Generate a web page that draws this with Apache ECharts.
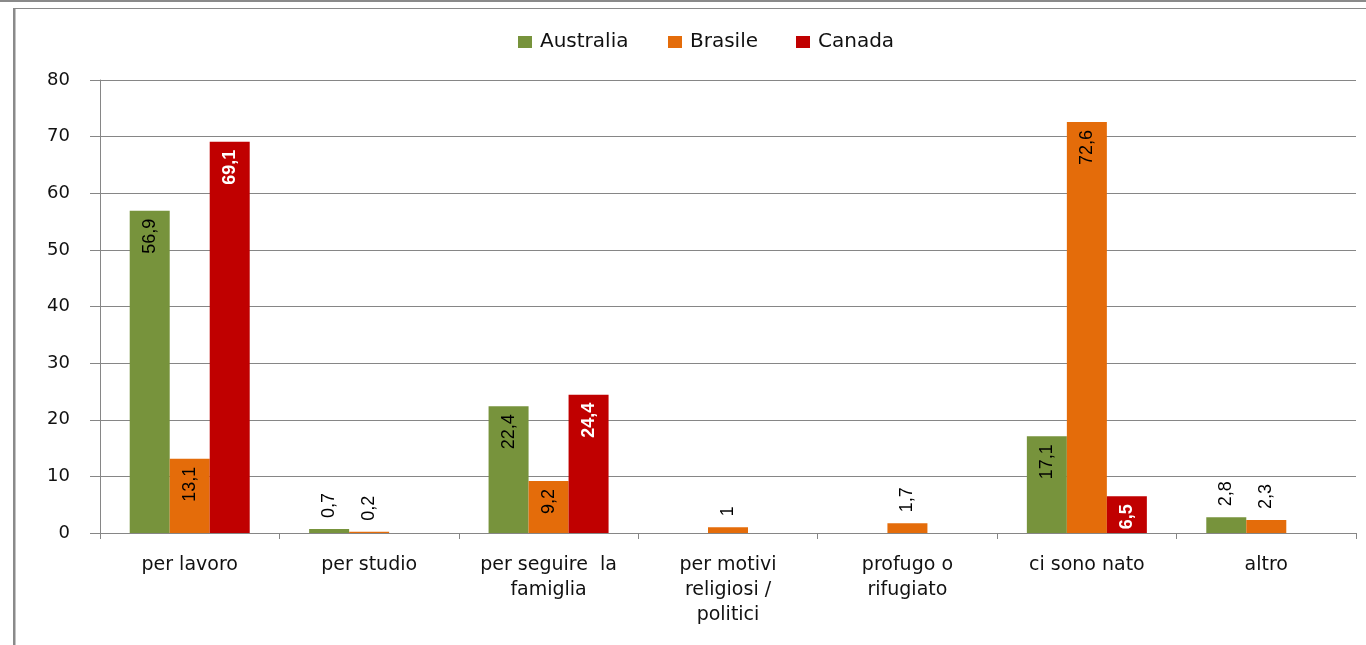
<!DOCTYPE html>
<html>
<head>
<meta charset="utf-8">
<script src="https://cdn.jsdelivr.net/npm/echarts@6/dist/echarts.min.js"></script>
<style>
html,body{margin:0;padding:0;background:#fff;}
#chart{width:1366px;height:645px;}
</style>
</head>
<body>
<div id="chart"></div>
<script>
const categories = ['per lavoro', 'per studio', 'per seguire  la\nfamiglia', 'per motivi\nreligiosi /\npolitici', 'profugo o\nrifugiato', 'ci sono nato', 'altro'];
const seriesNames = ['Australia', 'Brasile', 'Canada'];
const australia = [56.9, 0.7, 22.4, null, null, 17.1, 2.8];
const brasile = [13.1, 0.2, 9.2, 1, 1.7, 72.6, 2.3];
const canada = [69.1, null, 24.4, null, null, 6.5, null];
const yTicks = [0, 10, 20, 30, 40, 50, 60, 70, 80];

const colors = ['#77933C', '#E46C0A', '#C00000'];
const labelColors = ['#000', '#000', '#fff'];
const labelWeights = ['normal', 'normal', 'bold'];
const GRAY = '#868686';
const FONT = '"DejaVu Sans", sans-serif';

function fmt(v) { return String(v).replace('.', ','); }

function buildData(arr) {
  return arr.map(v => {
    if (v === null) return '-';
    const small = v < 5;
    return {
      value: v,
      label: small ? {
        position: 'top', distance: 11, align: 'left', verticalAlign: 'middle', color: '#000', fontWeight: 'normal'
      } : {
        position: 'insideTop', distance: 8, align: 'right', verticalAlign: 'middle'
      }
    };
  });
}

const allSeries = [australia, brasile, canada].map((arr, i) => ({
  name: seriesNames[i],
  type: 'bar',
  barWidth: 40,
  barGap: '0%',
  itemStyle: { color: colors[i] },
  label: {
    show: true,
    rotate: 90,
    formatter: p => fmt(p.value),
    fontFamily: '"Liberation Sans", Arial, sans-serif',
    fontSize: 18,
    color: labelColors[i],
    fontWeight: labelWeights[i]
  },
  data: buildData(arr)
}));

const legendLefts = [513, 663, 791];
const legends = seriesNames.map((n, i) => ({
  data: [n],
  left: legendLefts[i],
  top: 27,
  icon: 'rect',
  itemWidth: 14,
  itemHeight: 12,
  itemGap: 0,
  selectedMode: false,
  textStyle: { fontFamily: FONT, fontSize: 20, color: '#111', padding: [0, 0, 0, 3] }
}));

const chart = echarts.init(document.getElementById('chart'), null, { renderer: 'canvas' });
chart.setOption({
  animation: false,
  backgroundColor: '#fff',
  color: colors,
  legend: legends,
  grid: { left: 100, right: 10, top: 80, bottom: 112, containLabel: false },
  xAxis: {
    type: 'category',
    data: categories,
    boundaryGap: true,
    axisLine: { lineStyle: { color: GRAY, width: 1 } },
    axisTick: { show: true, length: 6, lineStyle: { color: GRAY } },
    axisLabel: {
      interval: 0, margin: 20, fontFamily: FONT, fontSize: 19, lineHeight: 25, color: '#111', align: 'center'
    }
  },
  yAxis: {
    type: 'value',
    min: yTicks[0],
    max: yTicks[yTicks.length - 1],
    interval: yTicks[1] - yTicks[0],
    axisLine: { show: true, lineStyle: { color: GRAY, width: 1 } },
    axisTick: { show: true, length: 10, lineStyle: { color: GRAY } },
    splitLine: { show: true, lineStyle: { color: GRAY, width: 1 } },
    axisLabel: { margin: 30, fontFamily: FONT, fontSize: 18, color: '#111' }
  },
  graphic: [
    { type: 'rect', shape: { x: 0, y: 0, width: 1366, height: 2 }, style: { fill: '#8a8a8a' }, silent: true },
    { type: 'rect', shape: { x: 13, y: 8, width: 1353, height: 1 }, style: { fill: '#8a8a8a' }, silent: true },
    { type: 'rect', shape: { x: 13, y: 8, width: 2.5, height: 637 }, style: { fill: '#8a8a8a' }, silent: true }
  ],
  series: allSeries
});
</script>
</body>
</html>
